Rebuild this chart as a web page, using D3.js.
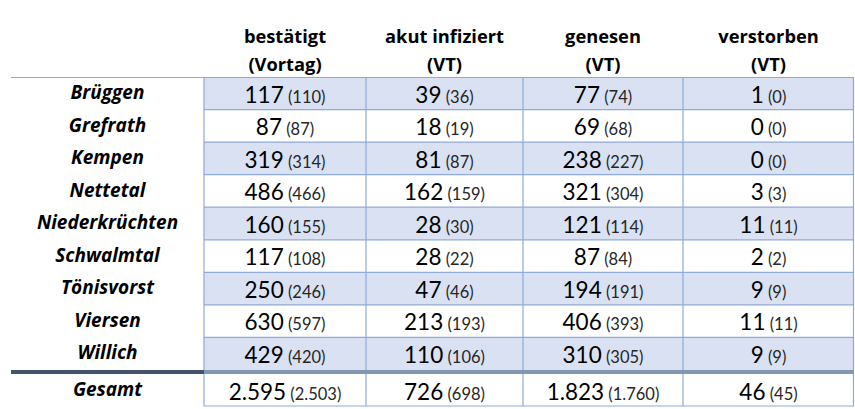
<!DOCTYPE html>
<html>
<head>
<meta charset="utf-8">
<script src="https://cdn.jsdelivr.net/npm/d3@7"></script>
<style>
  body { margin: 0; background: #fff; }
  text { font-family: Lato, "Open Sans", sans-serif; }
  .bold { font-family: "Open Sans", Lato, sans-serif; font-weight: 700; }
</style>
</head>
<body>
<div id="chart"></div>
<script>
var orte = ['Brüggen', 'Grefrath', 'Kempen', 'Nettetal', 'Niederkrüchten', 'Schwalmtal', 'Tönisvorst', 'Viersen', 'Willich'];
var kopf = [['bestätigt', '(Vortag)'], ['akut infiziert', '(VT)'], ['genesen', '(VT)'], ['verstorben', '(VT)']];

var bestaetigt = [117, 87, 319, 486, 160, 117, 250, 630, 429];
var bestaetigtVT = [110, 87, 314, 466, 155, 108, 246, 597, 420];
var akut = [39, 18, 81, 162, 28, 28, 47, 213, 110];
var akutVT = [36, 19, 87, 159, 30, 22, 46, 193, 106];
var genesen = [77, 69, 238, 321, 121, 87, 194, 406, 310];
var genesenVT = [74, 68, 227, 304, 114, 84, 191, 393, 305];
var verstorben = [1, 0, 0, 3, 11, 2, 9, 11, 9];
var verstorbenVT = [0, 0, 0, 3, 11, 2, 9, 11, 9];

var gesamtLabel = 'Gesamt';
var gesamt = [2595, 726, 1823, 46];
var gesamtVT = [2503, 698, 1760, 45];

var width = 855, height = 409;
var left = 11, right = 854;

var fmt = d3.formatLocale({decimal: ',', thousands: '.', grouping: [3], currency: ['', '€']}).format(',d');

var svg = d3.select('#chart').append('svg').attr('width', width).attr('height', height);

// Spaltenkanten (Label-Spalte + 4 Datenspalten)
var colEdge = d3.scaleLinear().domain([0, 1, 2, 3, 4]).range([204, 366, 523, 683, 854]);
var colMid = function (i) { return (colEdge(i) + colEdge(i + 1)) / 2; };
var labelMid = (left + colEdge(0)) / 2;

var y = d3.scaleBand().domain(orte).range([77, 370]).padding(0);

var spalten = [[bestaetigt, bestaetigtVT], [akut, akutVT], [genesen, genesenVT], [verstorben, verstorbenVT]];

var rows = orte.map(function (o, r) {
    return {name: o, idx: r, werte: spalten.map(function (s) { return [s[0][r], s[1][r]]; })};
});

// Zebra-Hintergrund
svg.append('g').selectAll('rect')
    .data(rows.filter(function (d) { return d.idx % 2 === 0; }))
    .join('rect')
    .attr('x', colEdge(0)).attr('y', function (d) { return y(d.name); })
    .attr('width', right - colEdge(0)).attr('height', y.bandwidth())
    .attr('fill', '#d9e1f2');

var grid = svg.append('g').attr('stroke', '#8eaadb').attr('stroke-width', 1.2);

// obere Linie
grid.append('line').attr('x1', left).attr('x2', right).attr('y1', 77.5).attr('y2', 77.5);

// horizontale Linien zwischen Zeilen (nur Datenbereich)
grid.selectAll('line.h')
    .data(orte.slice(1))
    .join('line').attr('class', 'h')
    .attr('x1', colEdge(0)).attr('x2', right)
    .attr('y1', function (d) { return y(d); }).attr('y2', function (d) { return y(d); });

// vertikale Linien
var totTop = 374, totBot = 406;
grid.selectAll('line.v')
    .data([0, 1, 2, 3, 4])
    .join('line').attr('class', 'v')
    .attr('x1', function (d) { return colEdge(d) - (d === 4 ? 0.5 : 0); })
    .attr('x2', function (d) { return colEdge(d) - (d === 4 ? 0.5 : 0); })
    .attr('y1', 77).attr('y2', totBot);

// untere Linie Gesamt
grid.append('line').attr('x1', colEdge(0)).attr('x2', right).attr('y1', totBot).attr('y2', totBot);

// dicke Trennlinie
svg.append('rect').attr('x', left).attr('y', 370).attr('width', colEdge(0) - left).attr('height', 4).attr('fill', '#44546a');
svg.append('rect').attr('x', colEdge(0)).attr('y', 370).attr('width', right - colEdge(0)).attr('height', 4).attr('fill', '#8497b0');

// Kopfzeile
var head = svg.append('g').attr('fill', '#000').attr('text-anchor', 'middle');
kopf.forEach(function (k, i) {
    head.append('text').attr('class', 'bold').attr('font-size', 18.3).attr('x', colMid(i)).attr('y', 43).text(k[0]);
    head.append('text').attr('class', 'bold').attr('font-size', 18.3).attr('x', colMid(i)).attr('y', 71).text(k[1]);
});

function zelle(g, x, yy, w) {
    var t = g.append('text').attr('x', x).attr('y', yy).attr('text-anchor', 'middle');
    t.append('tspan').attr('font-size', 22.5).attr('fill', '#000').text(fmt(w[0]));
    t.append('tspan').attr('font-size', 16.5).attr('fill', '#262626').text(' (' + fmt(w[1]) + ')');
}

function label(g, yy, name) {
    g.append('text').attr('class', 'bold').attr('x', labelMid).attr('y', yy)
        .attr('text-anchor', 'middle').attr('font-style', 'italic')
        .attr('font-size', 19).attr('fill', '#000').text(name);
}

var body = svg.append('g');
rows.forEach(function (d) {
    var top = y(d.name);
    label(body, top + 22, d.name);
    d.werte.forEach(function (w, i) { zelle(body, colMid(i), top + 25.5, w); });
});

// Gesamt
label(body, totTop + 21.5, gesamtLabel);
gesamt.forEach(function (v, i) { zelle(body, colMid(i), totTop + 25.5, [v, gesamtVT[i]]); });
</script>
</body>
</html>
